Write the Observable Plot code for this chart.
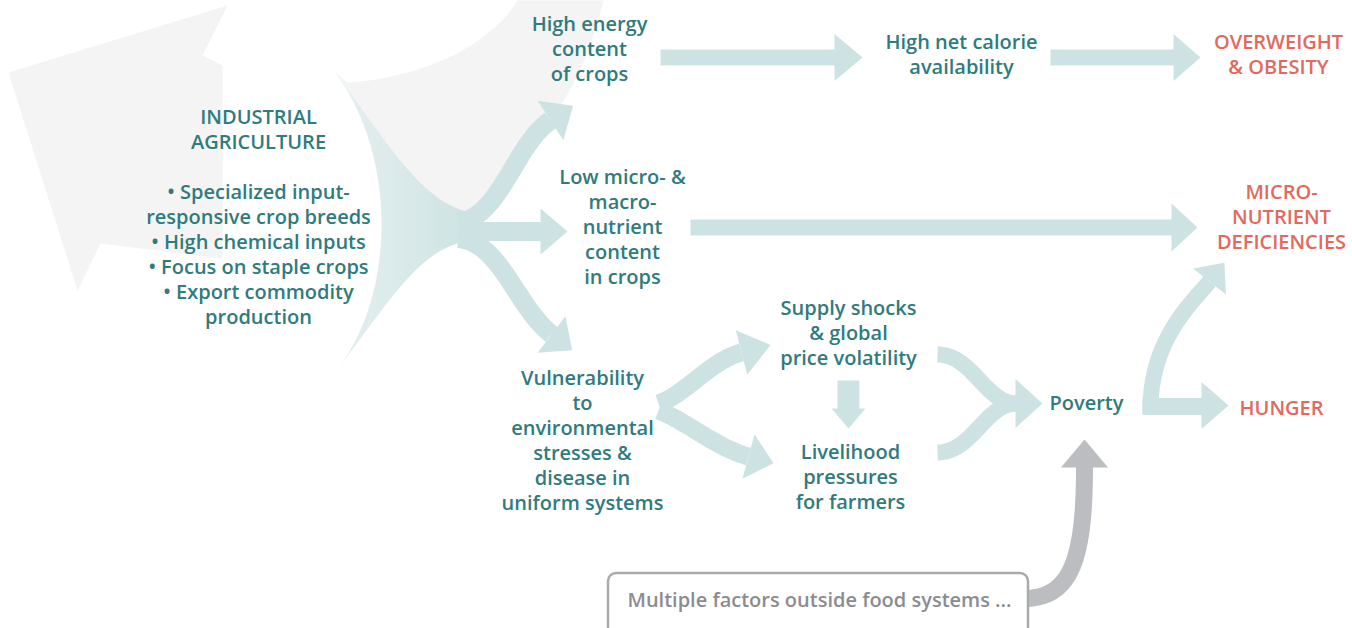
<!DOCTYPE html>
<html><head><meta charset="utf-8">
<script src="https://cdn.jsdelivr.net/npm/d3@7"></script>
<script src="https://cdn.jsdelivr.net/npm/@observablehq/plot@0.6"></script>
<style>html,body{margin:0;padding:0;background:#fff;overflow:hidden}#chart svg{display:block}</style>
</head><body><div id="chart"></div>
<script>
// ---------- DATA ----------
const labels = [
  "INDUSTRIAL\nAGRICULTURE\n\n• Specialized input-\nresponsive crop breeds\n• High chemical inputs\n• Focus on staple crops\n• Export commodity\nproduction",
  "High energy\ncontent\nof crops",
  "High net calorie\navailability",
  "OVERWEIGHT\n& OBESITY",
  "Low micro- &\nmacro-\nnutrient\ncontent\nin crops",
  "MICRO-\nNUTRIENT\nDEFICIENCIES",
  "Vulnerability\nto\nenvironmental\nstresses &\ndisease in\nuniform systems",
  "Supply shocks\n& global\nprice volatility",
  "Livelihood\npressures\nfor farmers",
  "Poverty",
  "HUNGER",
  "Multiple factors outside food systems ..."
];
const kinds = ["pathway","pathway","pathway","outcome","pathway","outcome","pathway","pathway","pathway","pathway","outcome","external"];
const links = [
  ["INDUSTRIAL", "High energy"], ["INDUSTRIAL", "Low micro"], ["INDUSTRIAL", "Vulnerability"],
  ["High energy", "High net calorie"], ["High net calorie", "OVERWEIGHT"],
  ["Low micro", "MICRO"], ["Vulnerability", "Supply shocks"], ["Vulnerability", "Livelihood"],
  ["Supply shocks", "Livelihood"], ["Supply shocks", "Poverty"], ["Livelihood", "Poverty"],
  ["Poverty", "MICRO"], ["Poverty", "HUNGER"], ["Multiple factors", "Poverty"]
];

// ---------- LAYOUT (diagram geometry in pixel units) ----------
const W = 1352, H = 628;
const nodeX = [258, 589, 961, 1278, 622, 1281, 582, 848, 850, 1086, 1281, 819];
const nodeY = [215, 47.5, 52.5, 52.5, 225, 215, 438.5, 331, 475, 401, 406, 598];

const teal = "#cde3e3", grayArrow = "#bcbdc0", bgGray = "#f4f4f4";
const textTeal = "#2f7b7d", textRed = "#e2695c", textGray = "#8b8c8f";

function bez(p0, p1, p2, p3, n = 40) {
  const pts = [];
  for (let i = 0; i <= n; i++) {
    const t = i / n, u = 1 - t;
    pts.push([
      u*u*u*p0[0] + 3*u*u*t*p1[0] + 3*u*t*t*p2[0] + t*t*t*p3[0],
      u*u*u*p0[1] + 3*u*u*t*p1[1] + 3*u*t*t*p2[1] + t*t*t*p3[1]
    ]);
  }
  return pts;
}
const toRows = (pts, id) => pts.map(([x, y]) => ({x, y, id}));

// background circular arrow (light gray)
const bgLeft = [[8,72],[227,5],[202,55],[222,65],[222,258],[100,243],[77,290]];
const funnelTop = bez([472,212],[420,205],[380,130],[333,70]);
const bgTop = [
  ...bez([347,82],[420,78],[490,45],[517,0]),
  [603,0],
  ...bez([603,0],[585,80],[540,150],[468,211]),
  ...funnelTop
];
// funnel
const funnel = [
  ...bez([333,70],[395,150],[398,290],[336,370]),
  ...bez([336,370],[390,300],[420,245],[472,240]),
  ...funnelTop
];

const shafts = [
  {pts: [[660,57],[835,57]], w: 16},
  {pts: [[1050,57],[1174,57]], w: 16},
  {pts: [[690,227],[1172,227]], w: 16},
  {pts: bez([458,222],[500,216],[515,143],[550,120]), w: 19},
  {pts: [[458,231],[541,231]], w: 19},
  {pts: bez([458,238],[500,242],[515,305],[551,334]), w: 19},
  {pts: bez([658,403],[685,394],[710,360],[741,352]), w: 18},
  {pts: bez([658,410],[685,420],[715,447],[748,456]), w: 18},
  {pts: [[848,380],[848,409]], w: 22},
  {pts: bez([937,354],[972,354],[985,403],[1016,403]), w: 16},
  {pts: bez([937,452],[972,452],[985,403],[1016,403]), w: 16},
  {pts: [[1142,406],[1202,406]], w: 17},
  {pts: bez([1150,414],[1148,340],[1192,302],[1209,281]), w: 16},
];
const grayShaft = {pts: bez([1026,598],[1070,596],[1084,560],[1084,466]), w: 17};

const heads = [
  {at:[834,57], dir:[1,0], half:23.5, len:28},
  {at:[1173,57], dir:[1,0], half:23.5, len:27},
  {at:[1171,227], dir:[1,0], half:24, len:26},
  {at:[550,120], dir:[23,-15], half:23.5, len:27},
  {at:[540,231], dir:[1,0], half:23, len:27},
  {at:[551,334], dir:[21,16], half:23, len:26},
  {at:[741,352], dir:[31,-8], half:23, len:30},
  {at:[748,456], dir:[33,9], half:23, len:26},
  {at:[848,408], dir:[0,1], half:17, len:20},
  {at:[1015,403], dir:[1,0], half:24.5, len:27},
  {at:[1201,405], dir:[1,0], half:23.5, len:27},
  {at:[1209,281], dir:[0.62,-0.78], half:21, len:24},
];
const grayHead = {at:[1084,467], dir:[0,-1], half:23.5, len:28};

function tri(h) {
  const m = Math.hypot(h.dir[0], h.dir[1]);
  const d = [h.dir[0]/m, h.dir[1]/m], n = [-d[1], d[0]];
  return [
    [h.at[0] + n[0]*h.half, h.at[1] + n[1]*h.half],
    [h.at[0] + d[0]*h.len, h.at[1] + d[1]*h.len],
    [h.at[0] - n[0]*h.half, h.at[1] - n[1]*h.half]
  ];
}

const nodes = labels.map((label, i) => ({label, kind: kinds[i], x: nodeX[i], y: nodeY[i]}));
const headRows = heads.flatMap((h, i) => toRows(tri(h), "h" + i));
const textOpts = {x: "x", y: "y", text: "label", fontSize: 20, fontWeight: 600,
  fontFamily: "'Open Sans', sans-serif", lineHeight: 25/20};

const chart = Plot.plot({
  width: W, height: H, margin: 0,
  x: {domain: [0, W], axis: null},
  y: {domain: [0, H], reverse: true, axis: null},
  style: {background: "#fff"},
  marks: [
    Plot.line(toRows(bgLeft, "l"), {x: "x", y: "y", fill: bgGray, stroke: "none", curve: "linear-closed"}),
    Plot.line(toRows(bgTop, "t"), {x: "x", y: "y", fill: bgGray, stroke: "none", curve: "linear-closed"}),
    Plot.line(toRows(funnel, "f"), {x: "x", y: "y", fill: "url(#funnelGrad)", stroke: "none", curve: "linear-closed"}),
    ...shafts.map((s, i) => Plot.line(toRows(s.pts, "s" + i), {x: "x", y: "y", stroke: teal, strokeWidth: s.w, strokeLinecap: "butt", strokeLinejoin: "round"})),
    Plot.line(headRows, {x: "x", y: "y", z: "id", fill: teal, stroke: "none", curve: "linear-closed"}),
    Plot.line(toRows(grayShaft.pts, "g"), {x: "x", y: "y", stroke: grayArrow, strokeWidth: grayShaft.w, strokeLinecap: "butt"}),
    Plot.line(toRows(tri(grayHead), "gh"), {x: "x", y: "y", fill: grayArrow, stroke: "none", curve: "linear-closed"}),
    Plot.rect([{x1: 608, x2: 1028, y1: 573, y2: 645}], {x1: "x1", x2: "x2", y1: "y1", y2: "y2", rx: 8, fill: "#fff", stroke: "#a9aaac", strokeWidth: 2.5}),
    Plot.text(nodes.filter(d => d.kind === "pathway"), {...textOpts, fill: textTeal}),
    Plot.text(nodes.filter(d => d.kind === "outcome"), {...textOpts, fill: textRed}),
    Plot.text(nodes.filter(d => d.kind === "external"), {...textOpts, fill: textGray})
  ]
});

const ns = "http://www.w3.org/2000/svg";
const defs = document.createElementNS(ns, "defs");
const grad = document.createElementNS(ns, "linearGradient");
grad.setAttribute("id", "funnelGrad");
grad.setAttribute("gradientUnits", "userSpaceOnUse");
grad.setAttribute("x1", 333); grad.setAttribute("x2", 472);
grad.setAttribute("y1", 0); grad.setAttribute("y2", 0);
[["0", "#e6f0f0"], ["1", teal]].forEach(([o, c]) => {
  const s = document.createElementNS(ns, "stop");
  s.setAttribute("offset", o); s.setAttribute("stop-color", c);
  grad.appendChild(s);
});
defs.appendChild(grad);
chart.insertBefore(defs, chart.firstChild);
document.getElementById("chart").appendChild(chart);
</script>
</body></html>
